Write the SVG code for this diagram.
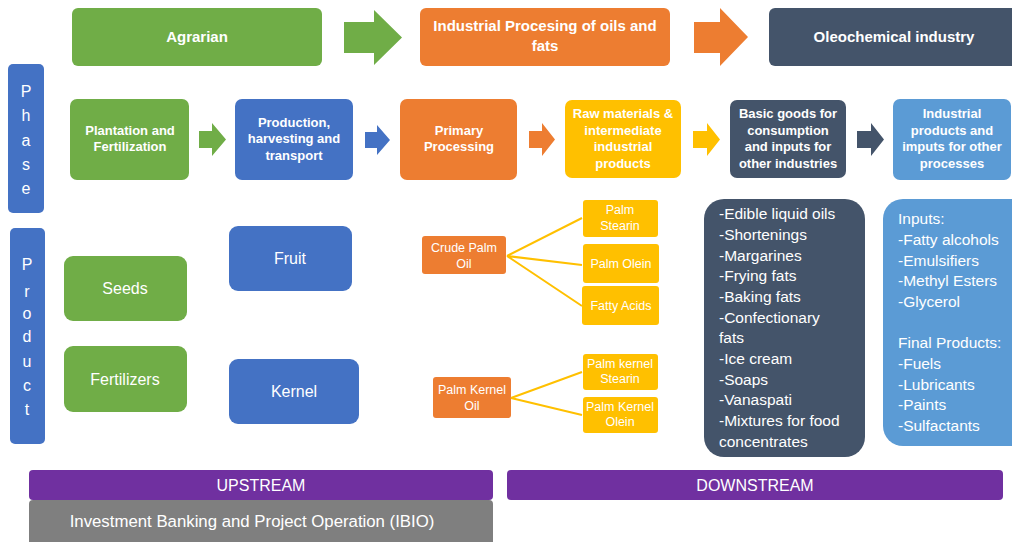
<svg xmlns="http://www.w3.org/2000/svg" width="1012" height="542" viewBox="0 0 1012 542">
<style>
text{font-family:"Liberation Sans",Arial,sans-serif;fill:#fff;text-anchor:middle}
.t1{font-size:15px;font-weight:bold}
.t2{font-size:13px;font-weight:bold}
.t3{font-size:16px}
.t4{font-size:12.5px}
.lst{font-size:15.5px;text-anchor:start}
.gr{fill:#70AD47}.bl{fill:#4472C4}.or{fill:#ED7D31}.ye{fill:#FFC000}.dk{fill:#44546A}.lb{fill:#5B9BD5}.pu{fill:#7030A0}.gy{fill:#7F7F7F}
.ln{stroke:#FFC000;stroke-width:2;fill:none}
</style>
<rect width="1012" height="542" fill="#fff"/>
<g id="agrarian"><rect class="gr" x="72" y="8" width="250" height="58" rx="6"/><text class="t1" x="197" y="42">Agrarian</text></g>
<g id="industrial"><rect class="or" x="420" y="8" width="250" height="58" rx="6"/><text class="t1" x="545" y="31">Industrial Procesing of oils and</text><text class="t1" x="545" y="51">fats</text></g>
<g id="oleochemical"><rect class="dk" x="769" y="8" width="250" height="58" rx="6"/><text class="t1" x="894" y="42">Oleochemical industry</text></g>
<g id="phase"><rect class="bl" x="8" y="64" width="36" height="149" rx="5"/>
<text class="t3" x="26" y="97">P</text><text class="t3" x="26" y="121">h</text><text class="t3" x="26" y="146">a</text><text class="t3" x="26" y="170">s</text><text class="t3" x="26" y="194">e</text></g>
<g id="product"><rect class="bl" x="10" y="228" width="35" height="216" rx="5"/>
<text class="t3" x="27" y="270">P</text><text class="t3" x="27" y="297">r</text><text class="t3" x="27" y="319">o</text><text class="t3" x="27" y="342">d</text><text class="t3" x="27" y="367">u</text><text class="t3" x="27" y="391">c</text><text class="t3" x="27" y="415">t</text></g>
<g id="plantation"><rect class="gr" x="70" y="99" width="119" height="81" rx="7"/><text class="t2" x="130" y="135">Plantation and</text><text class="t2" x="130" y="151">Fertilization</text></g>
<g id="production"><rect class="bl" x="235" y="99" width="118" height="81" rx="7"/><text class="t2" x="294" y="127">Production,</text><text class="t2" x="294" y="143">harvesting and</text><text class="t2" x="294" y="160">transport</text></g>
<g id="primary"><rect class="or" x="400" y="99" width="117" height="81" rx="7"/><text class="t2" x="459" y="135">Primary</text><text class="t2" x="459" y="151">Processing</text></g>
<g id="rawmaterials"><rect class="ye" x="565" y="100" width="116" height="78" rx="7"/><text class="t2" x="623" y="118">Raw materials &amp;</text><text class="t2" x="623" y="135">intermediate</text><text class="t2" x="623" y="151">industrial</text><text class="t2" x="623" y="168">products</text></g>
<g id="basicgoods"><rect class="dk" x="730" y="100" width="116" height="78" rx="7"/><text class="t2" x="788" y="118">Basic goods for</text><text class="t2" x="788" y="135">consumption</text><text class="t2" x="788" y="151">and inputs for</text><text class="t2" x="788" y="168">other industries</text></g>
<g id="industrialproducts"><rect class="lb" x="893" y="99" width="118" height="81" rx="7"/><text class="t2" x="952" y="118">Industrial</text><text class="t2" x="952" y="135">products and</text><text class="t2" x="952" y="151">imputs for other</text><text class="t2" x="952" y="168">processes</text></g>
<g id="seeds"><rect class="gr" x="64" y="256" width="123" height="65" rx="9"/><text class="t3" x="125" y="294">Seeds</text></g>
<g id="fertilizers"><rect class="gr" x="64" y="346" width="123" height="66" rx="9"/><text class="t3" x="125" y="385">Fertilizers</text></g>
<g id="fruit"><rect class="bl" x="229" y="226" width="123" height="65" rx="9"/><text class="t3" x="290" y="264">Fruit</text></g>
<g id="kernel"><rect class="bl" x="229" y="359" width="130" height="65" rx="9"/><text class="t3" x="294" y="397">Kernel</text></g>
<g id="crudepalmoil"><rect class="or" x="422" y="236" width="84" height="38" rx="3"/><text class="t4" x="464" y="252">Crude Palm</text><text class="t4" x="464" y="268">Oil</text></g>
<g id="palmkerneloil"><rect class="or" x="433" y="377" width="78" height="41" rx="3"/><text class="t4" x="472" y="394">Palm Kernel</text><text class="t4" x="472" y="410">Oil</text></g>
<g id="palmstearin"><rect class="ye" x="583" y="200" width="75" height="37" rx="3"/><text class="t4" x="620" y="214">Palm</text><text class="t4" x="620" y="230">Stearin</text></g>
<g id="palmolein"><rect class="ye" x="583" y="244" width="76" height="39" rx="3"/><text class="t4" x="621" y="268">Palm Olein</text></g>
<g id="fattyacids"><rect class="ye" x="582" y="286" width="77" height="39" rx="3"/><text class="t4" x="621" y="310">Fatty Acids</text></g>
<g id="palmkernelstearin"><rect class="ye" x="583" y="354" width="75" height="36" rx="3"/><text class="t4" x="620" y="368">Palm kernel</text><text class="t4" x="620" y="383">Stearin</text></g>
<g id="palmkernelolein"><rect class="ye" x="583" y="397" width="75" height="36" rx="3"/><text class="t4" x="620" y="411">Palm Kernel</text><text class="t4" x="620" y="426">Olein</text></g>
<g id="basiclist"><rect class="dk" x="704" y="199" width="161" height="258" rx="20"/>
<text class="lst" x="719" y="219">-Edible liquid oils</text>
<text class="lst" x="719" y="240">-Shortenings</text>
<text class="lst" x="719" y="261">-Margarines</text>
<text class="lst" x="719" y="281">-Frying fats</text>
<text class="lst" x="719" y="302">-Baking fats</text>
<text class="lst" x="719" y="323">-Confectionary</text>
<text class="lst" x="719" y="343">fats</text>
<text class="lst" x="719" y="364">-Ice cream</text>
<text class="lst" x="719" y="385">-Soaps</text>
<text class="lst" x="719" y="405">-Vanaspati</text>
<text class="lst" x="719" y="426">-Mixtures for food</text>
<text class="lst" x="719" y="447">concentrates</text></g>
<g id="industriallist"><rect class="lb" x="883" y="199" width="150" height="247" rx="20"/>
<text class="lst" x="898" y="224">Inputs:</text>
<text class="lst" x="898" y="245">-Fatty alcohols</text>
<text class="lst" x="898" y="266">-Emulsifiers</text>
<text class="lst" x="898" y="286">-Methyl Esters</text>
<text class="lst" x="898" y="307">-Glycerol</text>
<text class="lst" x="898" y="348">Final Products:</text>
<text class="lst" x="898" y="369">-Fuels</text>
<text class="lst" x="898" y="390">-Lubricants</text>
<text class="lst" x="898" y="410">-Paints</text>
<text class="lst" x="898" y="431">-Sulfactants</text></g>
<g id="upstream"><rect class="pu" x="29" y="470" width="464" height="30" rx="4"/><text class="t3" x="261" y="491">UPSTREAM</text></g>
<g id="downstream"><rect class="pu" x="507" y="470" width="496" height="30" rx="4"/><text class="t3" x="755" y="491">DOWNSTREAM</text></g>
<g id="ibio"><rect class="gy" x="29" y="500" width="464" height="46" rx="4"/><text x="252" y="527" style="font-size:16.8px">Investment Banking and Project Operation (IBIO)</text></g>
<g id="connectors">
<polygon class="gr" points="344,22 374,22 374,10 402,37.5 374,65 374,53 344,53"/>
<polygon class="or" points="694,22 720,22 720,8 748,37 720,66 720,53 694,53"/>
<polygon class="gr" points="199,131 212,131 212,123 226,139.5 212,156 212,148 199,148"/>
<polygon class="bl" points="365,132 377,132 377,125 390,140 377,155 377,148 365,148"/>
<polygon class="or" points="529,131 542,131 542,123 555,139.5 542,156 542,148 529,148"/>
<polygon class="ye" points="693,131 707,131 707,123 720,139.5 707,156 707,148 693,148"/>
<polygon class="dk" points="857,131 871,131 871,123 884,139.5 871,156 871,148 857,148"/>
<path class="ln" d="M507,256 L582,218 M507,256 L582,265 M507,256 L582,306 M511,398 L582,372 M511,398 L582,415"/>
</g>
</svg>
